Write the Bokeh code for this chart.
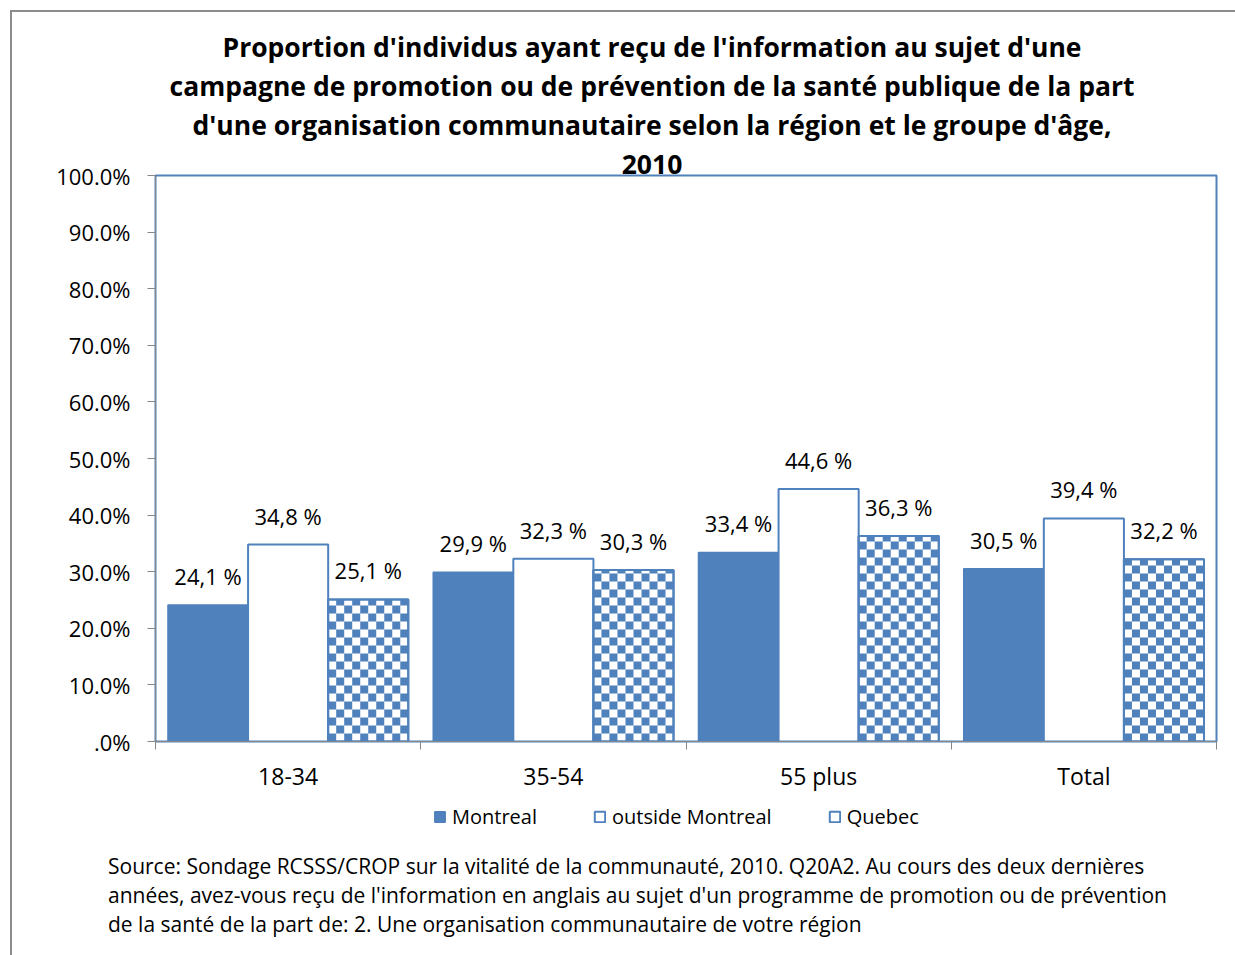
import math
from bokeh.plotting import figure
from bokeh.layouts import column
from bokeh.models import (ColumnDataSource, Range1d, LinearAxis, FixedTicker, LabelSet,
                          Legend, LegendItem, Div)
from bokeh.core.properties import value
from bokeh.embed import file_html
from bokeh.resources import INLINE

# ---------------- data ----------------
categories = ["18-34", "35-54", "55 plus", "Total"]
montreal = [24.1, 29.9, 33.4, 30.5]
outside_montreal = [34.8, 32.3, 44.6, 39.4]
quebec = [25.1, 30.3, 36.3, 32.2]
series_names = ["Montreal", "outside Montreal", "Quebec"]
y_ticks = [0, 10, 20, 30, 40, 50, 60, 70, 80, 90, 100]
y_tick_labels = [".0%", "10.0%", "20.0%", "30.0%", "40.0%", "50.0%", "60.0%", "70.0%", "80.0%", "90.0%", "100.0%"]
title_lines = [
    "Proportion d'individus ayant reçu de l'information au sujet d'une",
    "campagne de promotion ou de prévention de la santé publique de la part",
    "d'une organisation communautaire selon la région et le groupe d'âge,",
    "2010",
]
source_lines = [
    "Source: Sondage RCSSS/CROP sur la vitalité de la communauté, 2010. Q20A2. Au cours des deux dernières",
    "années, avez-vous reçu de l'information en anglais au sujet d'un programme de promotion ou de prévention",
    "de la santé de la part de: 2. Une organisation communautaire de votre région",
]

BLUE = "#4f81bd"
GRAY = "#878787"
FONT = "Open Sans"

# ---------------- title ----------------
title_div = Div(
    text='<div style="width:1176px;margin-left:47px;padding-top:11px;text-align:center;'
         'font-family:\'Open Sans\';font-weight:bold;font-size:26.5px;line-height:39px;color:black;'
         'white-space:nowrap;">' + "<br>".join(title_lines) + "</div>",
    width=1223, height=162)

# ---------------- main figure ----------------
p = figure(width=1223, height=647, output_backend="svg", toolbar_location=None,
           x_range=Range1d(0, len(categories)), y_range=Range1d(0, 100),
           x_axis_type=None, y_axis_type=None,
           min_border_left=143, min_border_right=19, min_border_top=21, min_border_bottom=60)
p.styles = {"margin-top": "-30px"}
p.outline_line_color = BLUE
p.outline_line_width = 2
p.background_fill_color = "white"
p.border_fill_color = None

yax = LinearAxis(ticker=FixedTicker(ticks=y_ticks, minor_ticks=[]))
yax.major_label_overrides = {t: l for t, l in zip(y_ticks, y_tick_labels)}
yax.axis_line_color = GRAY
yax.major_tick_line_color = GRAY
yax.major_tick_out = 8
yax.major_tick_in = 0
yax.major_label_standoff = 17
yax.major_label_text_font = FONT
yax.major_label_text_font_size = "22px"
yax.major_label_text_color = "black"
p.add_layout(yax, "left")

centers = [i + 0.5 for i in range(len(categories))]
bounds = [float(i) for i in range(len(categories) + 1)]
xax = LinearAxis(ticker=FixedTicker(ticks=centers, minor_ticks=bounds))
xax.major_label_overrides = {c: cat for c, cat in zip(centers, categories)}
xax.axis_line_color = GRAY
xax.major_tick_line_color = None
xax.major_tick_out = 0
xax.major_tick_in = 0
xax.minor_tick_line_color = GRAY
xax.minor_tick_out = 8
xax.minor_tick_in = 0
xax.major_label_standoff = 10
xax.major_label_text_font = FONT
xax.major_label_text_font_size = "23px"
xax.major_label_text_color = "black"
p.add_layout(xax, "below")

p.ygrid.ticker = FixedTicker(ticks=y_ticks[1:-1])
p.ygrid.grid_line_color = GRAY
p.ygrid.grid_line_width = 1
p.xgrid.visible = False

def fmt(v):
    return f"{v:.1f}".replace(".", ",") + " %"

w = 0.302
offsets = [-w, 0.0, w]
series = [montreal, outside_montreal, quebec]
styles = [dict(fill_color=BLUE, line_color=BLUE, line_width=1.5),
          dict(fill_color="white", line_color=BLUE, line_width=2),
          dict(fill_color="white", line_color=BLUE, line_width=2)]
for k, (vals, off) in enumerate(zip(series, offsets)):
    src = ColumnDataSource(dict(x=[c + off for c in centers], top=vals, lab=[fmt(v) for v in vals]))
    p.vbar(x="x", top="top", width=w, source=src, **styles[k])
    if k == 2:
        # checkerboard fill of the Quebec bars, cells computed from each bar's value
        ncol = 10
        cw = w / ncol
        ch = 8 / 5.66  # 8 px cells in data units
        L, R, B, T = [], [], [], []
        for xc, v in zip(src.data["x"], vals):
            x0 = xc - w / 2
            nrow = int(math.ceil(v / ch))
            for iy in range(nrow):
                for ix in range(ncol):
                    if (ix + iy) % 2 == 0:
                        L.append(x0 + ix * cw)
                        R.append(x0 + (ix + 1) * cw)
                        B.append(iy * ch)
                        T.append(min((iy + 1) * ch, v))
        p.quad(left=L, right=R, bottom=B, top=T, fill_color=BLUE, line_color=None)
        p.vbar(x="x", top="top", width=w, source=src, fill_color=None, line_color=BLUE, line_width=2)
    p.add_layout(LabelSet(x="x", y="top", text="lab", source=src, text_align="center",
                          text_baseline="middle", y_offset=29, text_font=value(FONT),
                          text_font_size="22px", text_color="black"))

# ---------------- legend strip ----------------
lf = figure(width=1223, height=34, output_backend="svg", toolbar_location=None,
            x_range=Range1d(0, len(categories)), y_range=Range1d(1000, 1001),
            x_axis_type=None, y_axis_type=None,
            min_border_left=0, min_border_right=0, min_border_top=0, min_border_bottom=0,
            outline_line_color=None, border_fill_color=None, background_fill_color=None)
lf.xgrid.visible = False
lf.ygrid.visible = False
items = []
for name, vals, st in zip(series_names, series, styles):
    # same series in a hidden renderer: only their legend swatches show
    r = lf.vbar(x=centers, top=vals, width=w, **st)
    r.visible = False
    items.append(LegendItem(label=name, renderers=[r]))
legend = Legend(items=items, orientation="horizontal", location=(278, 5), glyph_width=13,
                glyph_height=13, label_standoff=6, spacing=56, padding=0, margin=0,
                border_line_color=None, background_fill_alpha=0, label_text_font=FONT,
                label_text_font_size="20px", label_text_color="black",
                inactive_fill_alpha=0, click_policy="none")
lf.add_layout(legend, "center")

# ---------------- source note ----------------
source_div = Div(
    text='<div style="padding-left:91px;padding-top:12px;font-family:\'Open Sans\';font-size:21px;'
         'line-height:29px;color:black;white-space:nowrap;">' + "<br>".join(source_lines) + "</div>",
    width=1223, height=110)

layout = column(title_div, p, lf, source_div, spacing=0)
layout.styles = {"margin-left": "10px", "margin-top": "10px",
                 "border-left": "2px solid #8c8c8c", "border-top": "2px solid #8c8c8c"}

open("out.html", "w").write(file_html(layout, INLINE))
